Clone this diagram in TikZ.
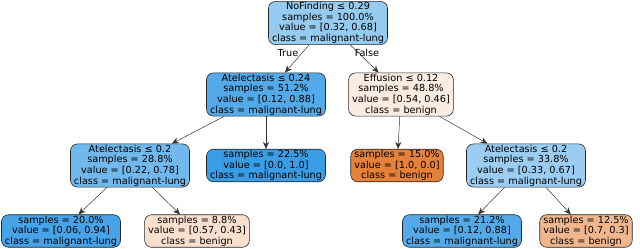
\documentclass[tikz,border=0pt]{standalone}
\usepackage{fontspec}
\setmainfont{DejaVu Sans}
\usetikzlibrary{arrows.meta}
\definecolor{c0}{RGB}{150,203,241}
\definecolor{c1}{RGB}{84,170,233}
\definecolor{c2}{RGB}{251,236,226}
\definecolor{c3}{RGB}{113,185,236}
\definecolor{c4}{RGB}{57,157,229}
\definecolor{c5}{RGB}{229,129,57}
\definecolor{c6}{RGB}{155,205,242}
\definecolor{c7}{RGB}{70,163,231}
\definecolor{c8}{RGB}{249,224,206}
\definecolor{c9}{RGB}{84,170,233}
\definecolor{c10}{RGB}{240,183,142}
\tikzset{
  tn/.style={draw=black!85, line width=0.6pt, rounded corners=7pt, align=center,
    inner xsep=3.5pt, inner ysep=1pt,
    font=\fontsize{9.7}{10.6}\selectfont},
  ed/.style={-{Stealth[length=7pt,width=6pt]}, line width=0.5pt, black!80},
  el/.style={font=\fontsize{9.7}{10.6}\selectfont}
}
\begin{document}
\begin{tikzpicture}[x=1pt,y=-1pt]
\useasboundingbox (0,0) rectangle (640,249);
\node[tn, fill=c0] (r) at (328,23) {NoFinding ≤ 0.29\\samples = 100.0\%\\value = [0.32, 0.68]\\class = malignant-lung};
\node[tn, fill=c1] (a) at (266,94.5) {Atelectasis ≤ 0.24\\samples = 51.2\%\\value = [0.12, 0.88]\\class = malignant-lung};
\node[tn, fill=c2] (e) at (401,94.5) {Effusion ≤ 0.12\\samples = 48.8\%\\value = [0.54, 0.46]\\class = benign};
\node[tn, fill=c3] (al) at (130,165.5) {Atelectasis ≤ 0.2\\samples = 28.8\%\\value = [0.22, 0.78]\\class = malignant-lung};
\node[tn, fill=c4] (p1) at (266,165.5) {samples = 22.5\%\\value = [0.0, 1.0]\\class = malignant-lung};
\node[tn, fill=c5] (p2) at (397,165.5) {samples = 15.0\%\\value = [1.0, 0.0]\\class = benign};
\node[tn, fill=c6] (ar) at (526,165.5) {Atelectasis ≤ 0.2\\samples = 33.8\%\\value = [0.33, 0.67]\\class = malignant-lung};
\node[tn, fill=c7] (l1) at (61,231) {samples = 20.0\%\\value = [0.06, 0.94]\\class = malignant-lung};
\node[tn, fill=c8] (l2) at (197,231) {samples = 8.8\%\\value = [0.57, 0.43]\\class = benign};
\node[tn, fill=c9] (l3) at (462,231) {samples = 21.2\%\\value = [0.12, 0.88]\\class = malignant-lung};
\node[tn, fill=c10] (l4) at (586,231) {samples = 12.5\%\\value = [0.7, 0.3]\\class = benign};
\draw[ed] (r) -- (a);
\draw[ed] (r) -- (e);
\draw[ed] (a) -- (al);
\draw[ed] (a) -- (p1);
\draw[ed] (e) -- (p2);
\draw[ed] (e) -- (ar);
\draw[ed] (al) -- (l1);
\draw[ed] (al) -- (l2);
\draw[ed] (ar) -- (l3);
\draw[ed] (ar) -- (l4);
\node[el] (tl) at (288,53) {True};
\node[el] (fl) at (367,53) {False};
\end{tikzpicture}
\end{document}
